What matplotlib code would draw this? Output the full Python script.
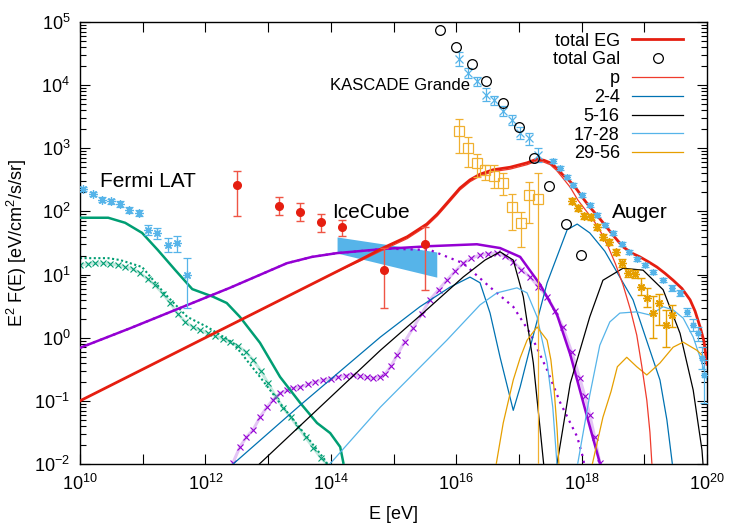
# -*- coding: utf-8 -*-
'''Diffuse gamma / neutrino / cosmic-ray spectrum with model components'''

import numpy
import matplotlib
matplotlib.use('Agg')
import matplotlib.pyplot as plt
from matplotlib.ticker import LogLocator, NullLocator, NullFormatter

plt.rcParams['font.family'] = ['Liberation Sans', 'DejaVu Sans']
plt.rcParams['mathtext.fontset'] = 'custom'
plt.rcParams['mathtext.rm'] = 'Liberation Sans'
plt.rcParams['mathtext.it'] = 'Liberation Sans:italic'
plt.rcParams['mathtext.bf'] = 'Liberation Sans:bold'

RED = '#e51e10'
PRED = '#ef3b2c'
BLUE = '#0072b2'
SKY = '#56b4e9'
ORANGE = '#e69f00'
GREEN = '#009e73'
LGREEN = '#7fcfb8'
PURPLE = '#9400d3'
LPURPLE = '#c47fe9'

# ---- model curves: log10(E/eV), log10(E^2 F)
egLogE = [10.0, 12.0, 14.0, 14.5, 14.83, 15.22, 15.53, 15.70, 15.85, 16.06, 16.22, 16.38, 16.59, 16.86,
          17.13, 17.29, 17.40, 17.50, 17.60, 17.70, 17.82, 17.93, 18.03, 18.13, 18.27, 18.40, 18.53, 18.66,
          18.80, 18.93, 19.07, 19.20, 19.33, 19.46, 19.60, 19.73, 19.81, 19.89, 19.95, 20.0]
egLogF = [-1.0, 0.0, 1.0, 1.25, 1.42, 1.60, 1.80, 1.96, 2.13, 2.37, 2.50, 2.59, 2.66, 2.70,
          2.77, 2.83, 2.81, 2.77, 2.69, 2.58, 2.47, 2.34, 2.20, 2.07, 1.91, 1.75, 1.59, 1.44,
          1.34, 1.28, 1.20, 1.12, 1.02, 0.91, 0.78, 0.60, 0.42, 0.17, -0.05, -0.42]

pLogE = [10.0, 12.0, 14.0, 14.5, 14.83, 15.22, 15.53, 15.70, 15.85, 16.06, 16.22, 16.38, 16.59, 16.86,
         17.13, 17.29, 17.40, 17.50, 17.60, 17.70, 17.82, 17.94, 18.08, 18.21, 18.32, 18.42, 18.54, 18.66,
         18.78, 18.88, 18.96, 19.04, 19.09, 19.12, 19.14]
pLogF = [-1.0, 0.0, 1.0, 1.23, 1.39, 1.57, 1.77, 1.93, 2.10, 2.34, 2.47, 2.56, 2.63, 2.67,
         2.74, 2.80, 2.78, 2.74, 2.65, 2.53, 2.38, 2.18, 2.00, 1.83, 1.65, 1.45, 1.17, 0.84,
         0.44, 0.04, -0.45, -0.99, -1.50, -1.98, -2.2]

c24LogE = [12.42, 13.51, 14.79, 15.42, 15.90, 16.22, 16.38, 16.54, 16.70, 16.75, 16.91, 17.02, 17.18,
           17.45, 17.77, 17.93, 18.13, 18.37, 18.82, 19.09, 19.25, 19.36, 19.45]
c24LogF = [-2.02, -1.07, 0.01, 0.49, 0.80, 0.96, 0.87, 0.39, -0.31, -0.51, -1.15, -0.78, -0.15,
           0.87, 1.71, 1.80, 1.66, 1.37, 0.60, -0.20, -0.67, -1.30, -2.02]

c516LogE = [12.84, 14.79, 15.47, 16.11, 16.46, 16.70, 16.91, 17.07, 17.23, 17.34, 17.40]
c516LogF = [-2.02, -0.20, 0.39, 0.96, 1.23, 1.36, 1.23, 0.65, -0.40, -1.46, -2.05]
c516bLogE = [17.60, 17.82, 18.13, 18.34, 18.66, 18.98, 19.30, 19.57, 19.78, 19.92, 19.94]
c516bLogF = [-2.05, -0.72, 0.33, 0.91, 1.10, 1.07, 0.76, 0.07, -0.83, -1.78, -2.05]

c1728LogE = [13.95, 14.79, 15.85, 16.38, 16.65, 16.97, 17.13, 17.29, 17.45, 17.54, 17.61]
c1728LogF = [-2.04, -1.10, -0.04, 0.52, 0.71, 0.79, 0.71, 0.33, -0.40, -1.10, -2.04]
c1728bLogE = [17.93, 18.13, 18.29, 18.45, 18.61, 18.88, 19.09, 19.30, 19.46, 19.62, 19.78, 19.92, 20.0]
c1728bLogF = [-2.04, -0.91, -0.12, 0.25, 0.39, 0.41, 0.36, 0.49, 0.44, 0.31, 0.01, -0.40, -0.67]

c2956LogE = [16.63, 16.75, 16.91, 17.02, 17.13, 17.29, 17.45, 17.51, 17.56, 17.61, 17.64]
c2956LogF = [-2.05, -1.35, -0.67, -0.32, -0.04, 0.17, -0.04, -0.35, -0.80, -1.46, -2.05]
c2956bLogE = [18.16, 18.34, 18.47, 18.57, 18.72, 18.88, 19.04, 19.25, 19.46, 19.62, 19.84, 20.0]
c2956bLogF = [-2.05, -1.26, -0.85, -0.46, -0.31, -0.46, -0.59, -0.40, -0.15, -0.07, -0.20, -0.35]

nuLogE = [10.0, 10.80, 11.52, 12.39, 13.30, 13.70, 14.10, 14.90, 15.58, 16.33, 16.70, 17.02, 17.34,
          17.61, 17.82, 18.09, 18.29, 18.32]
nuLogF = [-0.16, 0.15, 0.44, 0.79, 1.18, 1.28, 1.34, 1.41, 1.45, 1.48, 1.42, 1.28, 0.84,
          0.36, -0.27, -1.26, -1.98, -2.1]
nuDotLogE = [10.0, 10.80, 11.52, 12.39, 13.30, 13.70, 14.10, 14.90, 15.58, 16.11, 16.54, 16.91, 17.18,
             17.45, 17.66, 17.82, 17.93, 18.02, 18.05]
nuDotLogF = [-0.16, 0.15, 0.44, 0.79, 1.18, 1.28, 1.34, 1.41, 1.39, 1.18, 0.80, 0.49, 0.07,
             -0.51, -1.03, -1.35, -1.57, -1.89, -2.05]
nuPtsLogE = [12.44, 12.55, 12.65, 12.76, 12.87, 12.98, 13.08, 13.19, 13.30, 13.40, 13.51, 13.63, 13.75,
             13.88, 14.00, 14.12, 14.24, 14.35, 14.47, 14.58, 14.67, 14.78, 14.87, 14.96, 15.06, 15.18,
             15.31, 15.45, 15.58, 15.72, 15.85, 15.98, 16.11, 16.24, 16.38, 16.51, 16.65, 16.78, 16.91,
             17.04, 17.18, 17.31, 17.45, 17.58, 17.70, 17.84, 17.97, 18.05, 18.13, 18.21, 18.29]
nuPtsLogF = [-1.98, -1.73, -1.58, -1.46, -1.26, -1.10, -0.98, -0.88, -0.83, -0.80, -0.78, -0.74, -0.70,
             -0.67, -0.65, -0.62, -0.60, -0.59, -0.61, -0.63, -0.64, -0.62, -0.57, -0.45, -0.27, -0.06,
             0.15, 0.38, 0.60, 0.76, 0.91, 1.05, 1.18, 1.26, 1.31, 1.33, 1.34, 1.29, 1.20,
             1.08, 0.96, 0.81, 0.65, 0.42, 0.17, -0.22, -0.64, -0.92, -1.22, -1.58, -1.98]

gamLogE = [10.0, 10.45, 10.72, 10.99, 11.24, 11.52, 11.79, 12.12, 12.34, 12.55, 12.87, 13.19, 13.51,
           13.78, 13.99, 14.15, 14.20, 14.21]
gamLogF = [1.90, 1.90, 1.82, 1.66, 1.39, 1.07, 0.77, 0.65, 0.55, 0.33, -0.08, -0.62, -1.03,
           -1.35, -1.51, -1.73, -1.98, -2.1]
gamDotLogE = [10.0, 10.45, 10.64, 10.99, 11.34, 11.71, 12.03, 12.44, 12.87, 13.24, 13.62, 13.91, 13.96]
gamDotLogF = [1.26, 1.26, 1.23, 1.12, 0.71, 0.33, 0.17, -0.08, -0.62, -1.10, -1.57, -1.94, -2.03]
gamPtsLogE = [10.00, 10.12, 10.24, 10.36, 10.48, 10.60, 10.72, 10.84, 10.96, 11.08, 11.20, 11.32,
              11.44, 11.56, 11.68, 11.80, 11.92, 12.04, 12.16, 12.28, 12.40, 12.52, 12.64, 12.76,
              12.88, 13.00, 13.12, 13.24, 13.36, 13.48, 13.60, 13.72, 13.84, 13.96]
gamPtsLogF = [1.15, 1.17, 1.18, 1.18, 1.17, 1.15, 1.12, 1.09, 1.02, 0.93, 0.83, 0.70,
              0.55, 0.38, 0.25, 0.17, 0.12, 0.07, 0.03, -0.02, -0.07, -0.13, -0.22, -0.35,
              -0.52, -0.72, -0.93, -1.11, -1.26, -1.42, -1.58, -1.74, -1.90, -2.02]

# ---- measurements (log10 E, E^2F, lower, upper)
fermiLogE = [10.05, 10.21, 10.35, 10.49, 10.64, 10.78, 10.94, 11.09, 11.23, 11.40, 11.55, 11.71]
fermiFlux = [226, 189, 152, 146, 131, 105, 94, 51, 45, 29, 32, 9.8]
fermiLow = [207, 174, 139, 133, 119, 95, 85, 42, 37, 23, 23, 3.0]
fermiHigh = [247, 206, 167, 160, 144, 116, 104, 61, 54, 38, 41, 18.3]

iceLogE = [12.50, 13.17, 13.51, 13.84, 14.18, 14.85, 15.50]
iceFlux = [262, 122, 98, 68, 57, 11.8, 30.5]
iceLow = [85, 88, 70, 47, 41, 2.95, 5.7]
iceHigh = [437, 169, 136, 91, 73, 26.4, 56.6]

bandLogE = [14.10, 15.69]
bandLow = [21.9, 9.1]
bandHigh = [39.4, 22.8]

kgLogE = [16.05, 16.19, 16.33, 16.48, 16.60, 16.75, 16.89, 17.02, 17.16, 17.31]
kgFlux = [25900, 15600, 11600, 6980, 5820, 3890, 2810, 1750, 1460, 783]
kgLow = [20100, 13000, 9700, 5610, 4840, 3240, 2340, 1400, 1130, 607]
kgHigh = [33500, 18700, 13500, 9020, 6730, 4680, 3370, 2170, 1750, 1009]

kgHeavyLogE = [16.05, 16.19, 16.33, 16.46, 16.60, 16.75, 16.89, 17.03, 17.16, 17.31]
kgHeavyFlux = [1880, 1009, 585, 453, 364, 282, 117, 65.6, 182, 157]
kgHeavyLow = [843, 506, 351, 315, 235, 182, 51, 27.3, 65.6, 0.001]
kgHeavyHigh = [2910, 1510, 811, 543, 543, 406, 189, 98, 292, 406]

galLogE = [15.74, 16.00, 16.25, 16.48, 16.75, 17.00, 17.24, 17.48, 17.75, 17.99]
galFlux = [74600, 40200, 21600, 11600, 5210, 2170, 701, 253, 63.2, 20.4]

augerLogE = [17.85, 17.94, 18.04, 18.15, 18.25, 18.34, 18.44, 18.55, 18.64, 18.74, 18.85, 18.95,
             19.04, 19.14, 19.23, 19.35, 19.44]
augerFlux = [146, 113, 84.5, 81.7, 56.6, 39.4, 32.8, 22.8, 15.2, 10.6, 10.2, 6.35, 4.26, 2.46, 3.55, 1.59, 2.29]
augerLow = [130, 101, 75.4, 72.9, 50.5, 35.2, 29.3, 20.4, 13.3, 9.2, 8.8, 4.74, 3.06, 0.99, 1.59, 0.71, 1.48]
augerHigh = [164, 127, 94.6, 91.5, 63.4, 44.1, 36.7, 25.5, 17.4, 12.2, 11.8, 8.83, 6.12, 4.58, 4.92, 2.75, 3.30]

allLogE = [17.54, 17.66, 17.77, 17.86, 18.01, 18.13, 18.25, 18.37, 18.50, 18.64, 18.76, 18.88, 19.01,
           19.14, 19.30, 19.44, 19.57, 19.68, 19.78, 19.86, 19.92, 19.95]
allFlux = [630, 488, 351, 262, 182, 126, 87.7, 61.0, 45.5, 30.5, 22.8, 17.6, 14.2, 11.0, 8.20, 6.12,
           5.11, 2.55, 1.59, 1.19, 0.476, 0.256]
allLow = [588, 455, 328, 245, 170, 118, 82, 57, 42.5, 28.5, 21.3, 16.4, 13.3, 10.3, 7.65, 5.5,
          4.5, 2.2, 1.3, 0.9, 0.32, 0.092]
allHigh = [675, 523, 376, 281, 195, 135, 94, 65.4, 48.8, 32.7, 24.4, 18.9, 15.2, 11.8, 8.79, 6.8,
           5.8, 2.95, 1.95, 1.5, 0.70, 0.44]


def curve(graph, logE, logF, **kw):
	return graph.plot(10.0**numpy.array(logE), 10.0**numpy.array(logF), **kw)[0]


def points(graph, logE, flux, low, high, **kw):
	flux = numpy.array(flux, dtype=float)
	yerr = [flux - numpy.array(low), numpy.array(high) - flux]
	return graph.errorbar(10.0**numpy.array(logE), flux, yerr=yerr, linestyle='none', **kw)


fig = plt.figure(figsize=(7.5, 5.25), dpi=100)
graph = fig.add_axes([80 / 750, 1 - 464 / 525, 627 / 750, 442 / 525])

# IceCube band
graph.fill_between(10.0**numpy.array(bandLogE), bandLow, bandHigh, color=SKY, linewidth=0, zorder=1)

ASTER = (8, 2, 0)
points(graph, fermiLogE, fermiFlux, fermiLow, fermiHigh, marker=ASTER, ms=6, mew=0.9, color=SKY,
       elinewidth=0.9, capsize=3, capthick=0.9, zorder=4)
points(graph, iceLogE, iceFlux, iceLow, iceHigh, marker='o', ms=5.5, color=RED, ecolor='#ef5545',
       elinewidth=1, capsize=3, capthick=1, zorder=4)
points(graph, kgLogE, kgFlux, kgLow, kgHigh, marker='x', ms=5.5, mew=0.9, color=SKY,
       elinewidth=0.9, capsize=3, capthick=0.9, zorder=4)
points(graph, kgHeavyLogE, kgHeavyFlux, kgHeavyLow, kgHeavyHigh, marker='s', ms=6.5, mfc='none', mew=0.9,
       color='#f0b030', elinewidth=0.9, capsize=3, capthick=0.9, zorder=4)
points(graph, augerLogE, augerFlux, augerLow, augerHigh, marker=ASTER, ms=6, mew=1, color=ORANGE,
       elinewidth=1, capsize=3, capthick=1, zorder=4)
points(graph, allLogE, allFlux, allLow, allHigh, marker=ASTER, ms=5, mew=0.9, color=SKY,
       elinewidth=0.9, capsize=3, capthick=0.9, zorder=4)
galPts = graph.plot(10.0**numpy.array(galLogE), galFlux, 'o', ms=7, mfc='none', mec='black', mew=0.9,
                    zorder=5, label='total Gal')[0]

# gamma-ray model (green) and neutrino model (purple)
graph.plot(10.0**numpy.array(gamPtsLogE), 10.0**numpy.array(gamPtsLogF), '-', lw=2.2, color=LGREEN, alpha=0.45, zorder=2)
graph.plot(10.0**numpy.array(gamPtsLogE), 10.0**numpy.array(gamPtsLogF), 'x', ms=5, mew=0.8, color=GREEN, zorder=2)
curve(graph, gamDotLogE, gamDotLogF, color=GREEN, lw=1.5, linestyle=(0, (1, 1.2)), zorder=2)
curve(graph, gamLogE, gamLogF, color=GREEN, lw=1.8, zorder=3)

graph.plot(10.0**numpy.array(nuPtsLogE), 10.0**numpy.array(nuPtsLogF), '-', lw=2.2, color=LPURPLE, alpha=0.45, zorder=2)
graph.plot(10.0**numpy.array(nuPtsLogE), 10.0**numpy.array(nuPtsLogF), 'x', ms=5, mew=0.8, color=PURPLE, zorder=2)
curve(graph, nuDotLogE, nuDotLogF, color=PURPLE, lw=1.6, linestyle=(0, (1, 2.2)), zorder=2)
curve(graph, nuLogE, nuLogF, color=PURPLE, lw=1.8, zorder=3)

# composition components
l24 = curve(graph, c24LogE, c24LogF, color=BLUE, lw=0.9, zorder=3, label='2-4')
l516 = curve(graph, c516LogE, c516LogF, color='black', lw=0.9, zorder=3, label='5-16')
curve(graph, c516bLogE, c516bLogF, color='black', lw=0.9, zorder=3)
l1728 = curve(graph, c1728LogE, c1728LogF, color=SKY, lw=0.9, zorder=3, label='17-28')
curve(graph, c1728bLogE, c1728bLogF, color=SKY, lw=0.9, zorder=3)
l2956 = curve(graph, c2956LogE, c2956LogF, color=ORANGE, lw=0.9, zorder=3, label='29-56')
curve(graph, c2956bLogE, c2956bLogF, color=ORANGE, lw=0.9, zorder=3)
lp = curve(graph, pLogE, pLogF, color=PRED, lw=0.9, zorder=3, label='p')
leg = curve(graph, egLogE, egLogF, color=RED, lw=2.0, zorder=3, label='total EG')

graph.set_xscale('log')
graph.set_yscale('log')
graph.set_xlim(1e10, 1e20)
graph.set_ylim(1e-2, 1e5)

graph.set_xticks(10.0**numpy.arange(10, 21))
graph.set_xticklabels([r'$\mathdefault{10^{%d}}$' % k if k % 2 == 0 else '' for k in range(10, 21)])
graph.xaxis.set_minor_locator(NullLocator())
graph.set_yticks(10.0**numpy.arange(-2, 6))
graph.set_yticklabels([r'$\mathdefault{10^{%d}}$' % k for k in range(-2, 6)])
graph.yaxis.set_minor_locator(LogLocator(base=10, subs=numpy.arange(2, 10), numticks=20))
graph.yaxis.set_minor_formatter(NullFormatter())
graph.tick_params(which='both', direction='in', top=True, right=True, width=0.8)
graph.tick_params(which='major', length=7, labelsize=13, pad=7)
graph.tick_params(which='minor', length=4)
for spine in graph.spines.values():
	spine.set_linewidth(1.0)

graph.set_xlabel('E [eV]', fontsize=13, labelpad=9)
graph.set_ylabel(r'E$^2$ F(E) [eV/cm$^2$/s/sr]', fontsize=13, labelpad=4)

graph.text(10**10.32, 10**2.47, 'Fermi LAT', fontsize=15, ha='left', va='center')
graph.text(10**14.02, 10**1.98, 'IceCube', fontsize=15, ha='left', va='center')
graph.text(10**13.99, 10**3.99, 'KASCADE Grande', fontsize=12, ha='left', va='center')
graph.text(10**18.49, 10**1.98, 'Auger', fontsize=15, ha='left', va='center')

graph.legend(handles=[leg, galPts, lp, l24, l516, l1728, l2956], loc='upper right',
             bbox_to_anchor=(0.9617, 0.976), frameon=False, markerfirst=False, fontsize=13,
             handlelength=2.8, handletextpad=0.7, labelspacing=0.1, borderpad=0, borderaxespad=0)

fig.savefig('out.png', dpi=100)
